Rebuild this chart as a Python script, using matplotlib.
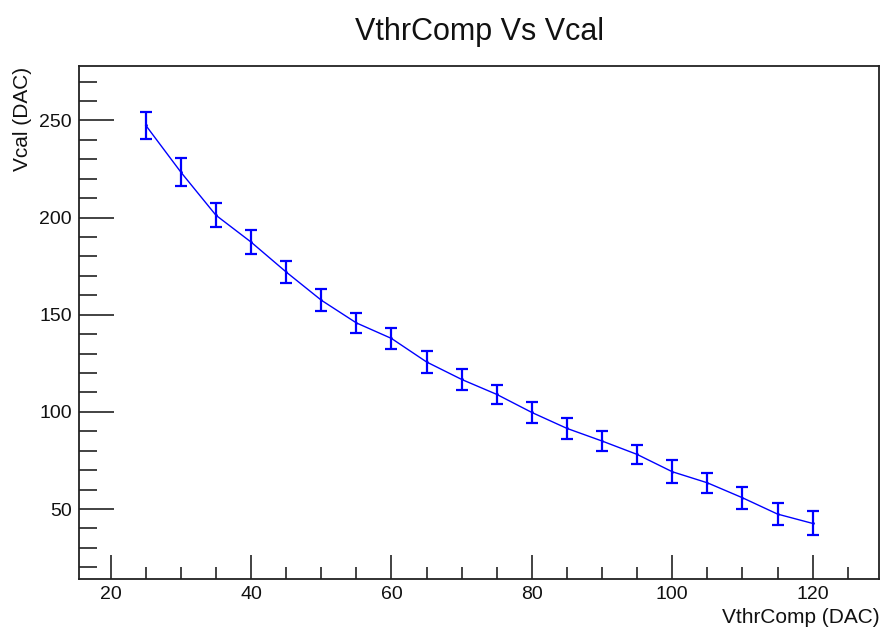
import numpy as np
import matplotlib
matplotlib.use("Agg")
import matplotlib.pyplot as plt
from matplotlib.ticker import MultipleLocator

plt.rcParams['font.family'] = ['Liberation Sans', 'DejaVu Sans']

vthrcomp = [25, 30, 35, 40, 45, 50, 55, 60, 65, 70,
            75, 80, 85, 90, 95, 100, 105, 110, 115, 120]
vcal = [247.5, 223.4, 201.2, 187.4, 172.0, 157.5, 145.8, 137.8, 125.7, 116.7,
        109.0, 99.7, 91.5, 85.0, 78.1, 69.2, 63.5, 55.8, 47.4, 42.6]
vcal_err = [7.0, 7.0, 6.2, 6.2, 5.7, 5.5, 5.1, 5.3, 5.5, 5.3,
            5.0, 5.4, 5.4, 5.1, 5.0, 5.8, 5.3, 5.7, 5.5, 6.2]

fig = plt.figure(figsize=(8.84, 6.31), dpi=100)
ax = fig.add_axes([0.0894, 0.0824, 0.9054, 0.813])

ax.errorbar(vthrcomp, vcal, yerr=vcal_err, color='#0000ff', lw=1.0,
            elinewidth=1.6, capsize=4, capthick=1.6, marker='.', markersize=2)

ax.set_xlim(15.5, 129.5)
ax.set_ylim(14, 278)
ax.xaxis.set_major_locator(MultipleLocator(20))
ax.xaxis.set_minor_locator(MultipleLocator(5))
ax.yaxis.set_major_locator(MultipleLocator(50))
ax.yaxis.set_minor_locator(MultipleLocator(10))

ax.tick_params(which='both', direction='in', top=False, right=False,
               colors='#222222', labelcolor='#111111', labelsize=14)
ax.tick_params(axis='y', which='major', length=25, width=1.2, pad=5)
ax.tick_params(axis='y', which='minor', length=13, width=1.2)
ax.tick_params(axis='x', which='major', length=17, width=1.2, pad=5)
ax.tick_params(axis='x', which='minor', length=9, width=1.2)
for s in ax.spines.values():
    s.set_linewidth(1.3)
    s.set_color('#222222')

fig.text(0.9955, 0.0127, 'VthrComp (DAC)', fontsize=15, ha='right', va='baseline',
         color='#111111')
fig.text(0.026, 0.894, 'Vcal (DAC)', fontsize=15, rotation=90, ha='center', va='top',
         color='#111111')
fig.text(0.542, 0.9366, 'VthrComp Vs Vcal', fontsize=22, ha='center', va='baseline',
         color='#111111')

fig.savefig('out.png', dpi=100)
